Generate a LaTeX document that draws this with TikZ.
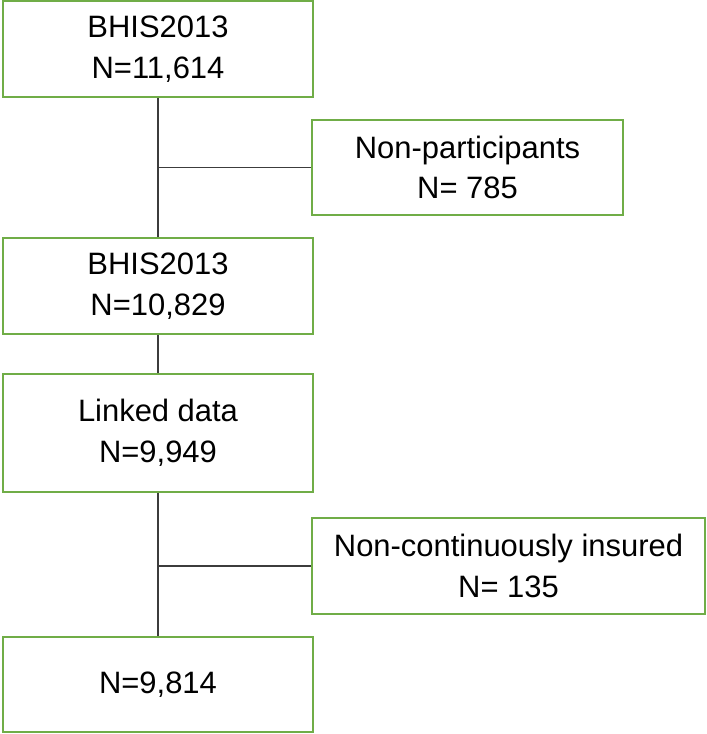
\documentclass[tikz,border=0pt]{standalone}
\usepackage{fontspec}
\setmainfont{Liberation Sans}
\definecolor{boxgreen}{RGB}{112,173,71}
\definecolor{linegray}{RGB}{60,60,60}
\begin{document}
\begin{tikzpicture}[x=0.025cm,y=-0.025cm,
            thick,main node/.style={rectangle,draw=boxgreen,line width=1.3pt,align=center,
            inner sep=0pt,font=\fontsize{22}{29}\selectfont}]

        \useasboundingbox (0,0) rectangle (707,734);

        % Define vertices
        \node[main node,minimum width=310*0.025cm,minimum height=96*0.025cm] (bhis) at (158,49) {BHIS2013\\N=11,614};
        \node[main node,minimum width=311*0.025cm,minimum height=95*0.025cm] (nonpart) at (467.5,167.5) {Non-participants\\N= 785};
        \node[main node,minimum width=310*0.025cm,minimum height=96*0.025cm] (part) at (158,286) {BHIS2013\\N=10,829};
        \node[main node,minimum width=310*0.025cm,minimum height=118*0.025cm] (linked) at (158,433) {Linked data\\N=9,949};
        \node[main node,minimum width=393*0.025cm,minimum height=96*0.025cm] (noncont) at (508.5,566) {Non-continuously insured\\N= 135};
        \node[main node,minimum width=310*0.025cm,minimum height=95*0.025cm] (final) at (158,684.5) {N=9,814};

        % Draw edges
        \path[draw=linegray,line width=0.9pt]
            (bhis) edge (part)
            (part) edge (linked)
            (linked) edge (final)
            (bhis |- nonpart) edge (nonpart)
            (linked |- noncont) edge (noncont);

\end{tikzpicture}
\end{document}
